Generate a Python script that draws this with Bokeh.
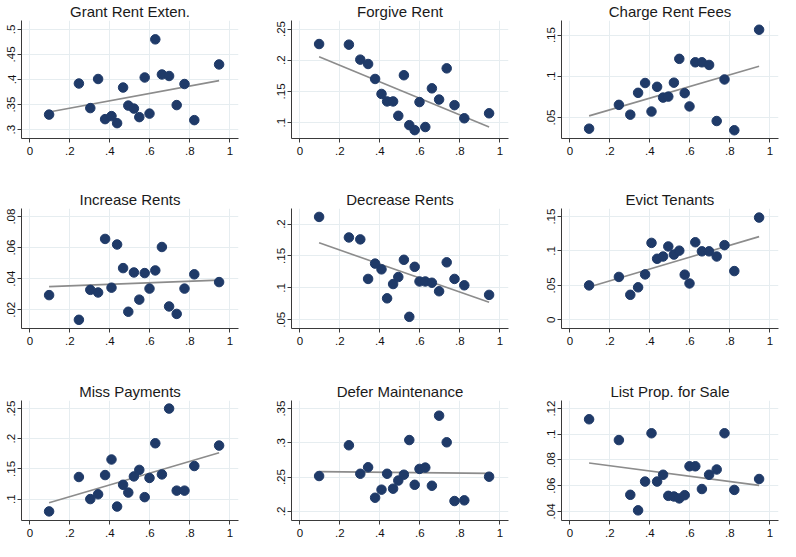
import numpy as np
from bokeh.plotting import figure
from bokeh.layouts import gridplot
from bokeh.models import FixedTicker, CustomJSTickFormatter, Range1d
from bokeh.embed import file_html
from bokeh.resources import INLINE

# ---- data ----
share_x = [0.096, 0.245, 0.302, 0.341, 0.376, 0.408, 0.436, 0.466, 0.492, 0.520,
           0.547, 0.574, 0.598, 0.627, 0.660, 0.696, 0.734, 0.773, 0.822, 0.946]

grant_rent_exten = [0.330, 0.392, 0.343, 0.401, 0.321, 0.327, 0.313, 0.384, 0.348, 0.342,
                    0.325, 0.404, 0.332, 0.480, 0.410, 0.407, 0.349, 0.391, 0.319, 0.430]
forgive_rent = [0.226, 0.225, 0.201, 0.194, 0.170, 0.146, 0.134, 0.134, 0.111, 0.176,
                0.096, 0.088, 0.133, 0.093, 0.155, 0.137, 0.187, 0.128, 0.107, 0.115]
charge_rent_fees = [0.0365, 0.0654, 0.0535, 0.0800, 0.0919, 0.0573, 0.0873, 0.0742, 0.0754, 0.0923,
                    0.1212, 0.0796, 0.0635, 0.1170, 0.1170, 0.1138, 0.0458, 0.0962, 0.0346, 0.1565]
increase_rents = [0.0294, 0.0135, 0.0328, 0.0311, 0.0656, 0.0342, 0.0620, 0.0468, 0.0187, 0.0440,
                  0.0265, 0.0436, 0.0336, 0.0453, 0.0604, 0.0221, 0.0173, 0.0336, 0.0428, 0.0378]
decrease_rents = [0.2112, 0.1790, 0.1760, 0.1140, 0.1380, 0.1290, 0.0836, 0.1060, 0.1170, 0.1440,
                  0.0546, 0.1330, 0.1100, 0.1100, 0.1080, 0.0947, 0.1400, 0.1140, 0.1040, 0.0890]
evict_tenants = [0.0500, 0.0623, 0.0363, 0.0472, 0.0660, 0.1118, 0.0887, 0.0920, 0.1066, 0.0948,
                 0.1005, 0.0656, 0.0528, 0.1127, 0.0995, 0.0995, 0.0920, 0.1085, 0.0708, 0.1486]
miss_payments = [0.0796, 0.1366, 0.1000, 0.1080, 0.1398, 0.1656, 0.0876, 0.1237, 0.1108, 0.1376,
                 0.1484, 0.1032, 0.1350, 0.1925, 0.1409, 0.2500, 0.1140, 0.1140, 0.1548, 0.1887]
defer_maintenance = [0.2516, 0.2965, 0.2549, 0.2644, 0.2199, 0.2317, 0.2549, 0.2331, 0.2450, 0.2535,
                     0.3041, 0.2388, 0.2620, 0.2639, 0.2374, 0.3396, 0.3008, 0.2151, 0.2161, 0.2506]
list_prop_for_sale = [0.1117, 0.0955, 0.0529, 0.0408, 0.0632, 0.1008, 0.0632, 0.0685, 0.0521, 0.0516,
                      0.0501, 0.0526, 0.0751, 0.0751, 0.0574, 0.0685, 0.0726, 0.1008, 0.0567, 0.0652]

titles = ["Grant Rent Exten.", "Forgive Rent", "Charge Rent Fees",
          "Increase Rents", "Decrease Rents", "Evict Tenants",
          "Miss Payments", "Defer Maintenance", "List Prop. for Sale"]

x_ticks = [0, 0.2, 0.4, 0.6, 0.8, 1]
y_ticks = [
    [0.3, 0.35, 0.4, 0.45, 0.5],
    [0.1, 0.15, 0.2, 0.25],
    [0.05, 0.1, 0.15],
    [0.02, 0.04, 0.06, 0.08],
    [0.05, 0.1, 0.15, 0.2],
    [0, 0.05, 0.1, 0.15],
    [0.1, 0.15, 0.2, 0.25],
    [0.2, 0.25, 0.3, 0.35],
    [0.04, 0.06, 0.08, 0.1, 0.12],
]
y_ranges = [
    (0.2824, 0.5176), (0.0746, 0.2637), (0.0246, 0.1677),
    (0.0079, 0.0852), (0.0363, 0.2244), (-0.0127, 0.1618),
    (0.0645, 0.2634), (0.1867, 0.3618), (0.0329, 0.1263),
]
series = [grant_rent_exten, forgive_rent, charge_rent_fees,
          increase_rents, decrease_rents, evict_tenants,
          miss_payments, defer_maintenance, list_prop_for_sale]

# ---- layout geometry ----
FRAME_W, FRAME_H = 217, 120
col_borders = [(21, 15), (38, 15), (38, 2)]
row_borders = [(18, 30), (40, 31), (41, 21)]

fmt = CustomJSTickFormatter(code="""
var s = (Math.round(tick*1000)/1000).toString();
if (s.startsWith('0.')) { s = s.slice(1); }
else if (s.startsWith('-0.')) { s = '-' + s.slice(2); }
return s;
""")

FONT = "Liberation Sans"
NAVY = "#1f3a68"
GRID = "#e6edf0"
AXIS = "#3a3a3a"

figs = []
for i in range(9):
    r, c = divmod(i, 3)
    lb, rb = col_borders[c]
    tb, bb = row_borders[r]
    p = figure(width=lb + FRAME_W + rb, height=tb + FRAME_H + bb,
               min_border_left=lb, min_border_right=rb,
               min_border_top=tb, min_border_bottom=bb,
               x_range=Range1d(-0.042, 1.043),
               y_range=Range1d(*y_ranges[i]),
               toolbar_location=None, output_backend="svg",
               title=titles[i])
    p.title.align = "center"
    p.title.text_font = FONT
    p.title.text_font_size = "15px"
    p.title.text_font_style = "normal"
    p.title.text_color = "#1a1a1a"
    p.title.standoff = 1
    p.outline_line_color = None
    p.background_fill_color = "white"
    p.border_fill_color = "white"

    p.xaxis.ticker = FixedTicker(ticks=x_ticks)
    p.yaxis.ticker = FixedTicker(ticks=y_ticks[i])
    for ax in (p.xaxis, p.yaxis):
        ax.formatter = fmt
        ax.axis_line_color = AXIS
        ax.major_tick_line_color = AXIS
        ax.major_tick_in = 0
        ax.major_tick_out = 4
        ax.minor_tick_line_color = None
        ax.major_label_text_font = FONT
        ax.major_label_text_font_size = "11.5px"
        ax.major_label_text_color = "#111111"
    p.xaxis.major_label_standoff = 4
    p.yaxis.major_label_standoff = 2
    p.yaxis.major_label_orientation = "vertical"

    p.xgrid.grid_line_color = GRID
    p.ygrid.grid_line_color = GRID

    xs = np.array(share_x)
    ys = np.array(series[i])
    slope, intercept = np.polyfit(xs, ys, 1)
    fx = np.array([xs.min(), xs.max()])
    p.line(fx, slope * fx + intercept, line_color="#8c8c8c", line_width=1.6)
    p.scatter(xs, ys, size=9.5, fill_color=NAVY, line_color=NAVY, marker="circle")
    figs.append(p)

grid = gridplot([figs[0:3], figs[3:6], figs[6:9]], toolbar_location=None)

open("out.html", "w").write(file_html(grid, INLINE))
